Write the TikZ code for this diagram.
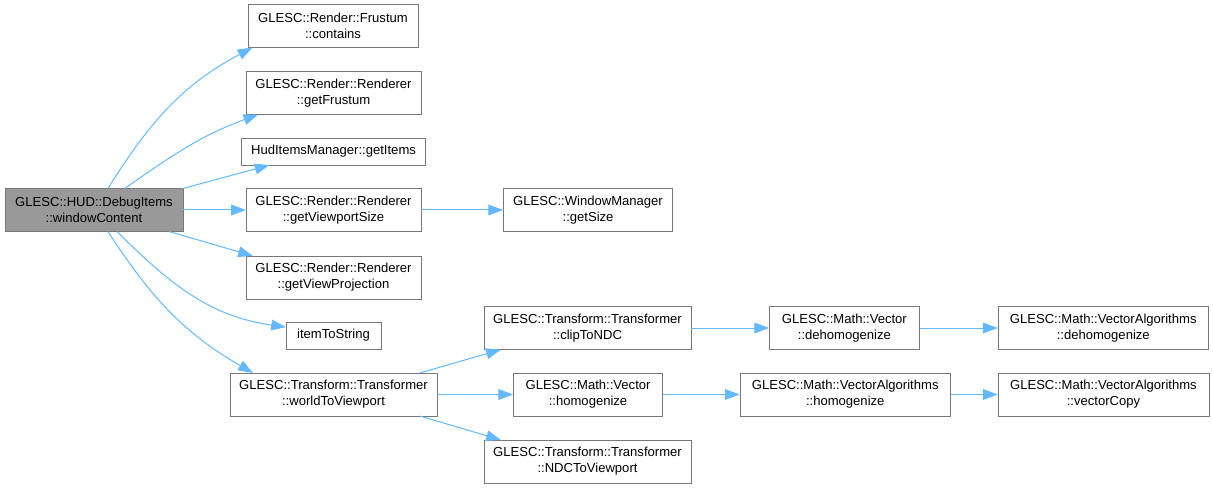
\documentclass[tikz,border=0pt]{standalone}
\usepackage{fontspec}
\setmainfont{Liberation Sans}
\usepackage{tikz}
\usetikzlibrary{positioning,arrows.meta}
\usepackage{xcolor}
\definecolor{callblue}{RGB}{99,184,255}
\definecolor{boxline}{RGB}{120,120,120}
\definecolor{rootgray}{RGB}{153,153,153}

\begin{document}
\begin{tikzpicture}[x=0.75pt,y=-0.75pt,>={Triangle[length=11pt,width=8pt]},
        fn/.style={draw=boxline, rectangle, fill=white, align=center, inner sep=1pt, minimum height=32pt, font=\fontsize{9.8}{12}\selectfont},
        fnroot/.style={fn, fill=rootgray},
        fnone/.style={fn, minimum height=20pt},
        call/.style={->, draw=callblue, line width=0.75pt}]
        \useasboundingbox (0,0) rectangle (1213,488);

        % caller
        \node[fnroot, minimum width=133.5pt] (root) at (94,210) {GLESC::HUD::DebugItems\\::windowContent};

        % first level
        \node[fn, minimum width=127.5pt] (frustumC) at (333,26) {GLESC::Render::Frustum\\::contains};
        \node[fn, minimum width=131pt] (getFrustum) at (333.5,93) {GLESC::Render::Renderer\\::getFrustum};
        \node[fnone, minimum width=138pt] (getItems) at (333.5,151.5) {HudItemsManager::getItems};
        \node[fn, minimum width=131pt] (vpSize) at (333.5,210) {GLESC::Render::Renderer\\::getViewportSize};
        \node[fn, minimum width=131pt] (viewProj) at (333.5,277.5) {GLESC::Render::Renderer\\::getViewProjection};
        \node[fnone, minimum width=71pt] (itemStr) at (333.5,335.5) {itemToString};
        \node[fn, minimum width=155pt] (w2v) at (333.5,394.5) {GLESC::Transform::Transformer\\::worldToViewport};

        % second level
        \node[fn, minimum width=127pt, right=61.5pt of vpSize] (getSize) {GLESC::WindowManager\\::getSize};
        \node[fn, minimum width=155pt] (clipNDC) at (587.5,328) {GLESC::Transform::Transformer\\::clipToNDC};
        \node[fn, minimum width=112pt, right=57pt of w2v] (vHomog) {GLESC::Math::Vector\\::homogenize};
        \node[fn, minimum width=155pt] (ndc2vp) at (587.5,461.5) {GLESC::Transform::Transformer\\::NDCToViewport};

        % third and fourth level
        \node[fn, minimum width=112.5pt, right=58.5pt of clipNDC] (vDehomog) {GLESC::Math::Vector\\::dehomogenize};
        \node[fn, minimum width=158pt, right=57.5pt of vHomog] (vaHomog) {GLESC::Math::VectorAlgorithms\\::homogenize};
        \node[fn, minimum width=158pt, right=58.5pt of vDehomog] (vaDehomog) {GLESC::Math::VectorAlgorithms\\::dehomogenize};
        \node[fn, minimum width=158pt, right=35.25pt of vaHomog] (vaCopy) {GLESC::Math::VectorAlgorithms\\::vectorCopy};

        \draw[call] (root.57) to[out=58, in=208] (frustumC.195);
        \draw[call] (root.35) to[out=35, in=200] (getFrustum.196);
        \draw[call] (root.north east) -- (getItems.192);
        \draw[call] (root.east) -- (vpSize.west);
        \draw[call] (root.-16) -- (viewProj.165);
        \draw[call] (root.-43) to[out=-45, in=172] (itemStr.170);
        \draw[call] (root.-57) to[out=-57, in=150] (w2v.165);

        \draw[call] (vpSize.east) -- (getSize.west);
        \draw[call] (w2v.14.5) -- (clipNDC.194);
        \draw[call] (w2v.east) -- (vHomog.west);
        \draw[call] (w2v.-14.5) -- (ndc2vp.166);

        \draw[call] (clipNDC.east) -- (vDehomog.west);
        \draw[call] (vHomog.east) -- (vaHomog.west);
        \draw[call] (vDehomog.east) -- (vaDehomog.west);
        \draw[call] (vaHomog.east) -- (vaCopy.west);
    \end{tikzpicture}
\end{document}
